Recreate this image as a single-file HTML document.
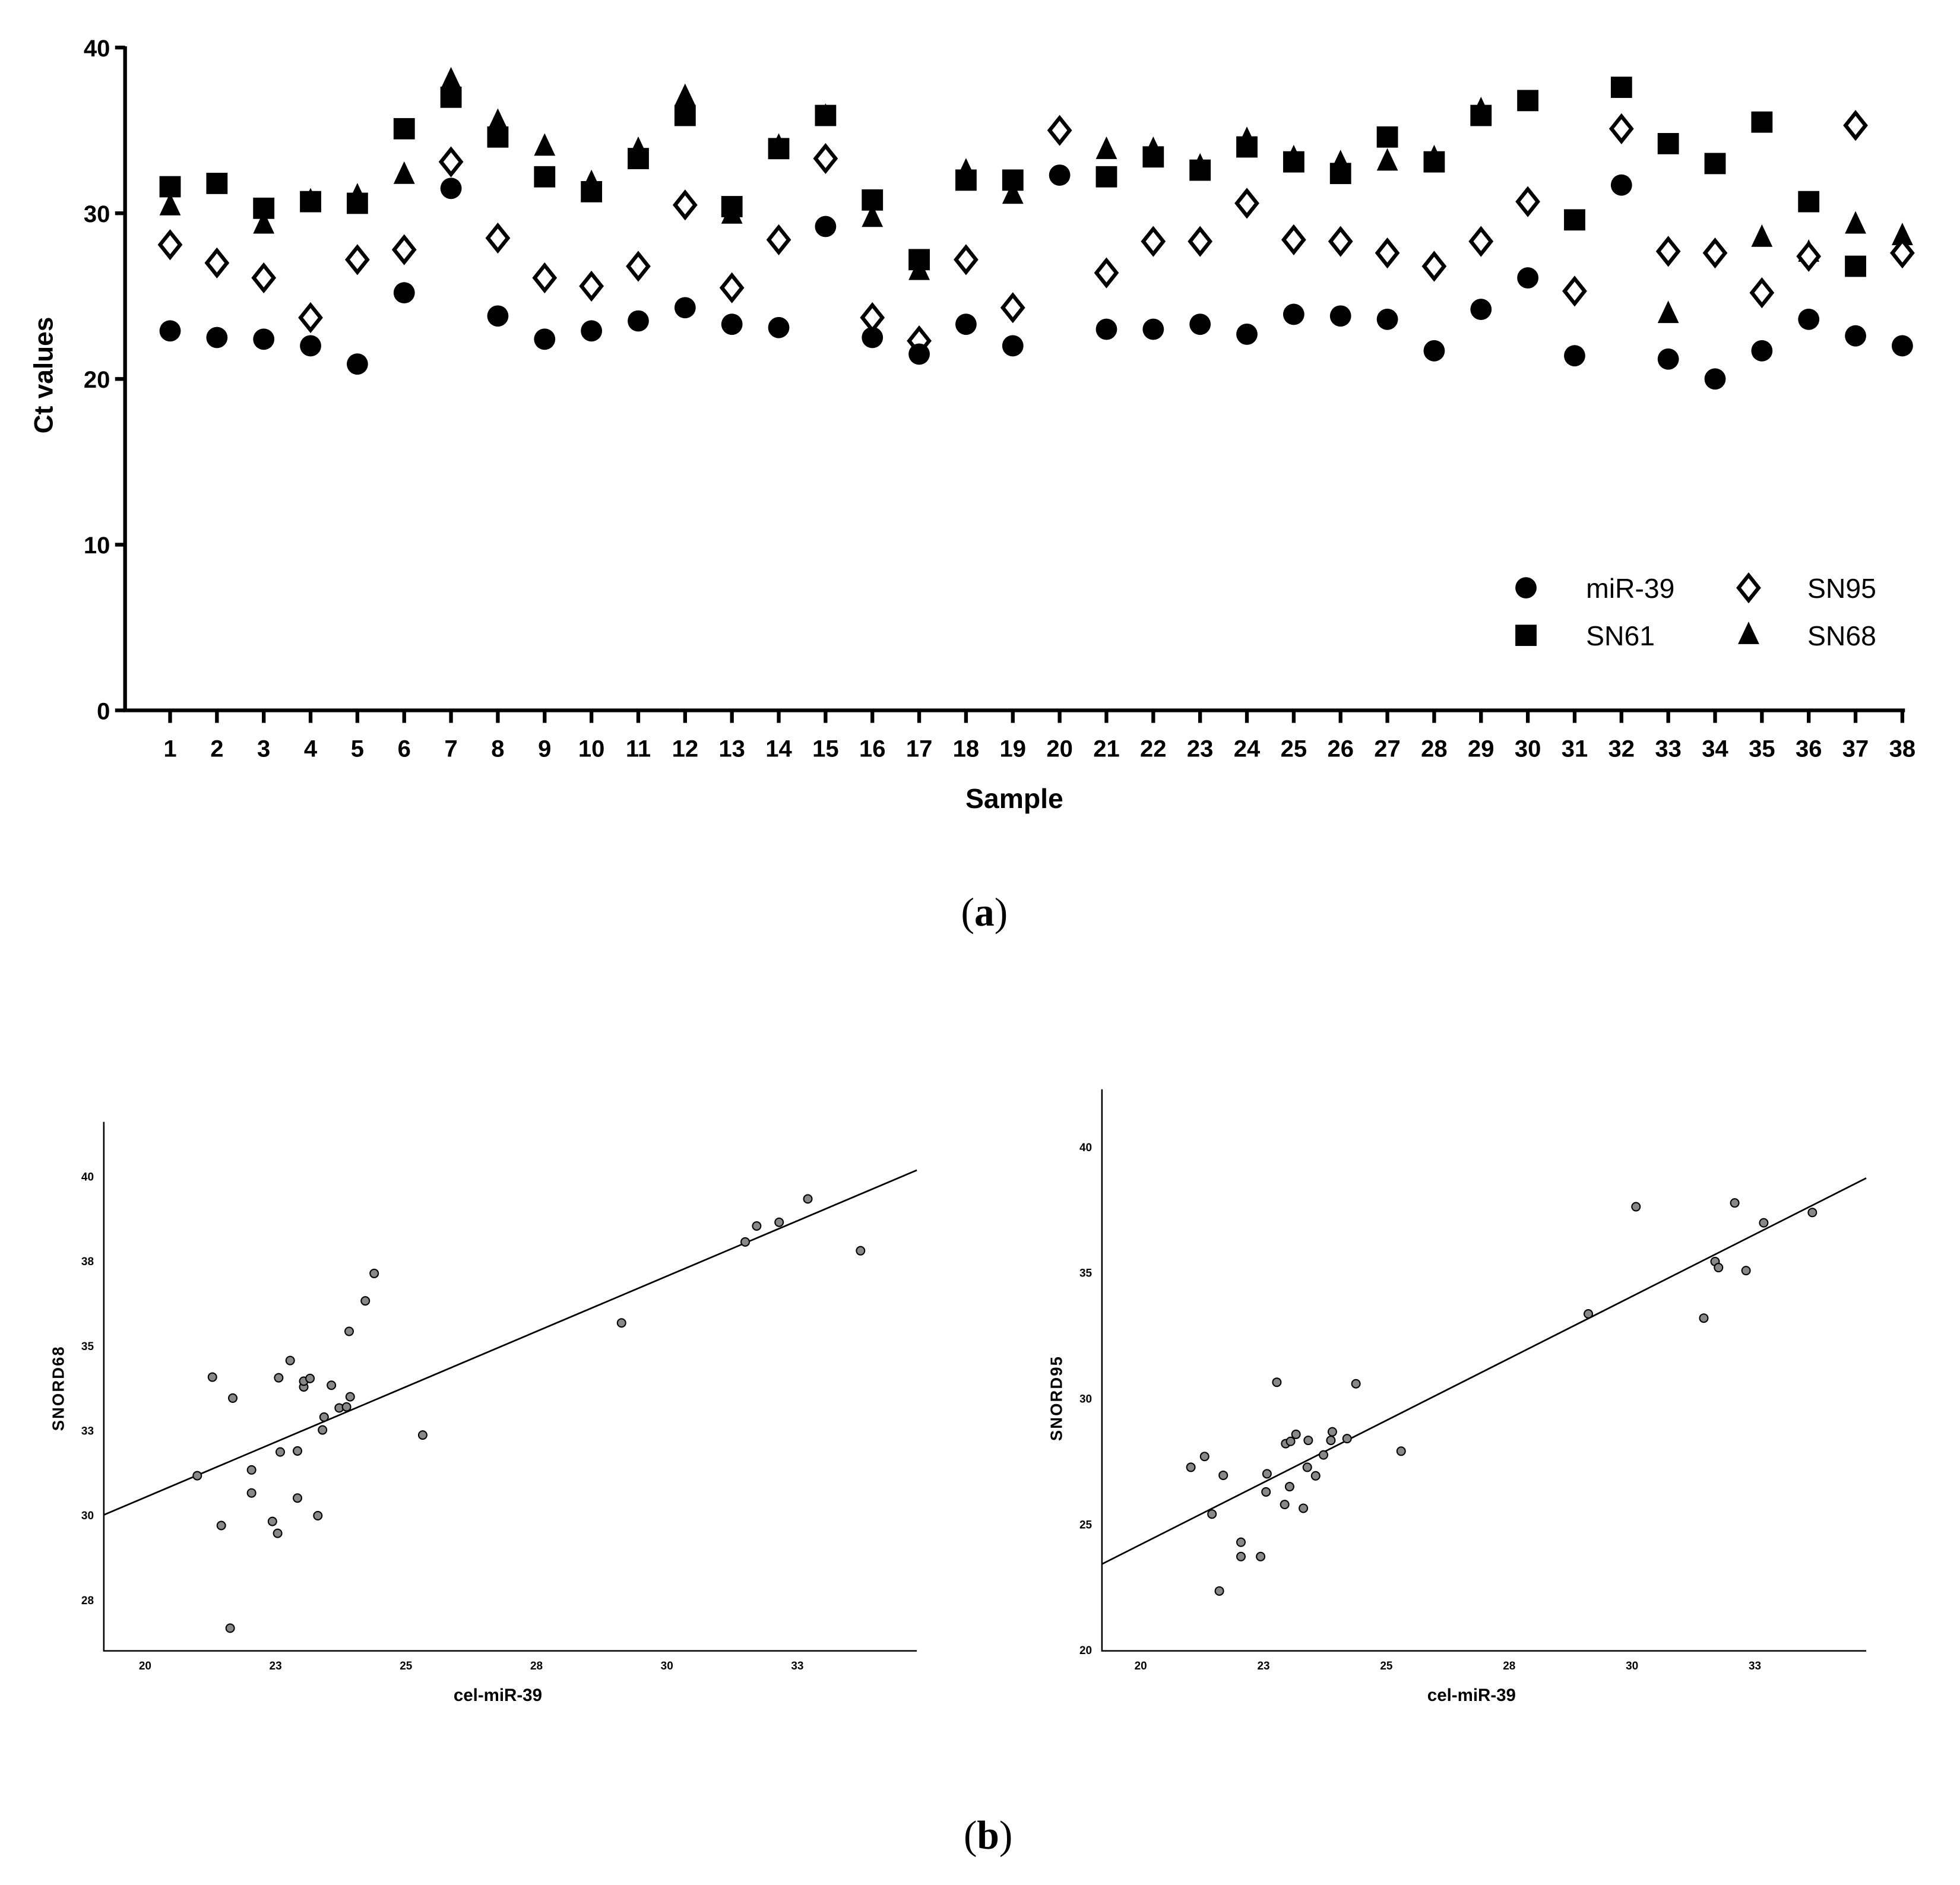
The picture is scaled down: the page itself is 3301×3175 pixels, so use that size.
<!DOCTYPE html>
<html><head><meta charset="utf-8"><style>
html,body{margin:0;padding:0;background:#fff;}
svg{display:block;}
text{font-family:"Liberation Sans",sans-serif;}
</style></head><body>
<svg id="fig" xmlns="http://www.w3.org/2000/svg" width="3301" height="3175" viewBox="0 0 1567 1507.2" preserveAspectRatio="none">
<rect width="1567" height="1507.2" fill="#fff"/>
<g id="pa"></g>
<g id="pb1"></g>
<g id="pb2"></g>
<text x="787" y="740" text-anchor="middle" style="font-family:'Liberation Serif',serif" font-size="32">(<tspan font-weight="bold">a</tspan>)</text>
<text x="790" y="1478" text-anchor="middle" style="font-family:'Liberation Serif',serif" font-size="32">(<tspan font-weight="bold">b</tspan>)</text>
</svg>
<script>
const samples = Array.from({length:38},(_, i)=>i+1);
const mir39 = [22.9,22.5,22.4,22.0,20.9,25.2,31.5,23.8,22.4,22.9,23.5,24.3,23.3,23.1,29.2,22.5,21.5,23.3,22.0,32.3,23.0,23.0,23.3,22.7,23.9,23.8,23.6,21.7,24.2,26.1,21.4,31.7,21.2,20.0,21.7,23.6,22.6,22.0];
const sn95 = [28.1,27.0,26.1,23.7,27.2,27.8,33.1,28.5,26.1,25.6,26.8,30.5,25.5,28.4,33.3,23.7,22.3,27.2,24.3,35.0,26.4,28.3,28.3,30.6,28.4,28.3,27.6,26.8,28.3,30.7,25.3,35.1,27.7,27.6,25.2,27.4,35.3,27.6];
const sn61 = [31.6,31.8,30.3,30.7,30.6,35.1,37.0,34.6,32.2,31.3,33.3,35.9,30.4,33.9,35.9,30.8,27.2,32.0,32.0,null,32.2,33.4,32.6,34.0,33.1,32.4,34.6,33.1,35.9,36.8,29.6,37.6,34.2,33.0,35.5,30.7,26.8,null];
const sn68 = [30.4,null,29.3,30.7,31.0,32.3,38.0,35.5,34.0,31.8,33.8,37.0,29.9,34.0,35.8,29.7,26.5,32.5,31.1,null,33.8,33.8,32.8,34.4,33.3,33.0,33.1,33.3,36.2,null,null,null,23.9,null,28.5,27.6,29.3,28.6];
const yTicksA = [0,10,20,30,40];

const b1x = [21.0,21.29,21.46,21.68,21.63,22.04,22.04,22.44,22.54,22.56,22.59,22.78,22.92,22.92,23.04,23.04,23.16,23.31,23.40,23.43,23.57,23.72,23.86,23.93,23.91,24.22,24.39,25.32,29.13,31.50,31.72,32.15,32.70,33.71];
const b1y = [31.18,34.09,29.71,33.47,26.68,31.35,30.67,29.83,29.48,34.07,31.88,34.58,31.91,30.52,33.80,33.97,34.05,30.0,32.53,32.91,33.85,33.18,33.21,33.51,35.44,36.34,37.15,32.38,35.69,38.08,38.55,38.66,39.35,37.82];
const b1fit = [0.653,17.48];
const b2x = [21.02,21.30,21.45,21.68,21.60,22.04,22.04,22.44,22.55,22.57,22.77,22.93,22.95,23.03,23.05,23.16,23.31,23.39,23.41,23.56,23.72,23.87,23.90,24.20,24.38,25.30,29.11,30.08,31.46,31.69,31.76,32.09,32.32,32.68,33.67];
const b2y = [27.28,27.71,25.42,26.96,22.36,24.30,23.73,23.73,26.30,27.02,30.66,25.80,28.22,26.51,28.31,28.59,25.65,27.28,28.35,26.94,27.77,28.35,28.69,28.42,30.60,27.92,33.38,37.64,33.21,35.46,35.22,37.79,35.10,37.00,37.41];
const b2fit = [0.9865,4.48];
const xTickVals = [20,22.5,25,27.5,30,32.5];
const xTickLbl = ["20","23","25","28","30","33"];
const b1yVals = [27.5,30,32.5,35,37.5,40];
const b1yLbl = ["28","30","33","35","38","40"];
const b2yVals = [20,25,30,35,40];
const b2yLbl = ["20","25","30","35","40"];

const NS='http://www.w3.org/2000/svg';
function mk(parent,tag,attrs,txt){const e=document.createElementNS(NS,tag);for(const k in attrs)e.setAttribute(k,attrs[k]);if(txt!==undefined)e.textContent=txt;parent.appendChild(e);return e;}

const pa=document.getElementById('pa');
const ax=s=>136+(s-1)*37.43, ay=v=>568-v*13.25;
let e=mk(pa,'path',{d:'M100,37V568H1523',fill:'none',stroke:'#000','stroke-width':3});

yTicksA.forEach(v=>{
  let t=mk(pa,'line',{x1:92,x2:100,y1:ay(v),y2:ay(v),stroke:'#000','stroke-width':3});
  
  let l=mk(pa,'text',{x:88,y:ay(v)+7,'text-anchor':'end','font-size':19,'font-weight':'bold'},String(v));
  
});
samples.forEach(s=>{
  let t=mk(pa,'line',{x1:ax(s),x2:ax(s),y1:568,y2:578,stroke:'#000','stroke-width':3});
  
  let l=mk(pa,'text',{x:ax(s),y:605,'text-anchor':'middle','font-size':19,'font-weight':'bold'},String(s));
  
});
e=mk(pa,'text',{x:811,y:646,'text-anchor':'middle','font-size':22,'font-weight':'bold'},'Sample');

e=mk(pa,'text',{x:0,y:0,'text-anchor':'middle','font-size':21,'font-weight':'bold',transform:'translate(42,300) rotate(-90)'},'Ct values');


function marker(g,type,x,y){
  if(type==='circle')return mk(g,'ellipse',{cx:x,cy:y,rx:8.5,ry:8.5,fill:'#000'});
  if(type==='square')return mk(g,'rect',{x:x-8.5,y:y-8.5,width:17,height:17,fill:'#000'});
  if(type==='diamond')return mk(g,'path',{d:`M${x},${y-10}L${x+8},${y}L${x},${y+10}L${x-8},${y}Z`,fill:'#fff',stroke:'#000','stroke-width':3});
  return mk(g,'path',{d:`M${x},${y-11}L${x+8.5},${y+7}L${x-8.5},${y+7}Z`,fill:'#000'});
}
const series=[['sn68',sn68,'triangle'],['sn61',sn61,'square'],['sn95',sn95,'diamond'],['mir39',mir39,'circle']];
series.forEach(([nm,arr,type])=>{
  arr.forEach((v,i)=>{ if(v===null)return;
    const m=marker(pa,type,ax(samples[i]),ay(v));
    
    
  });
});
const leg=[['circle','miR-39',1220,1268,470],['diamond','SN95',1398,1445,470],['square','SN61',1220,1268,508],['triangle','SN68',1398,1445,508]];
leg.forEach(([t,lab,mx,tx,y])=>{
  const m=marker(pa,t,mx,y);
  
  const l=mk(pa,'text',{x:tx,y:y+8,'font-size':22},lab);
  
});

function scatter(g,cfg){
  const sx=v=>cfg.x0+(v-20)*cfg.kx, sy=v=>cfg.y0-(v-cfg.yb)*cfg.ky;
  let a=mk(g,'path',{d:`M${cfg.L},${cfg.T}V${cfg.B}H${cfg.R}`,fill:'none',stroke:'#000','stroke-width':1.2});
  
  xTickVals.forEach((v,i)=>{
    const l=mk(g,'text',{x:sx(v),y:cfg.B+15,'text-anchor':'middle','font-size':9,'font-weight':'bold'},xTickLbl[i]);
    
  });
  cfg.yv.forEach((v,i)=>{
    const l=mk(g,'text',{x:cfg.L-8,y:sy(v)+3,'text-anchor':'end','font-size':9,'font-weight':'bold'},cfg.yl[i]);
    
  });
  let t=mk(g,'text',{x:(cfg.L+cfg.R)/2-10,y:cfg.B+40,'text-anchor':'middle','font-size':14,'font-weight':'bold'},'cel-miR-39');
  
  t=mk(g,'text',{x:0,y:0,'text-anchor':'middle','font-size':13,'font-weight':'bold','letter-spacing':1,transform:`translate(${cfg.L-32},${cfg.ty}) rotate(-90)`},cfg.title);
  
  const xa=(cfg.L-cfg.x0)/cfg.kx+20, xb=(cfg.R-cfg.x0)/cfg.kx+20;
  let ln=mk(g,'line',{x1:sx(xa),y1:sy(cfg.fit[0]*xa+cfg.fit[1]),x2:sx(xb),y2:sy(cfg.fit[0]*xb+cfg.fit[1]),stroke:'#000','stroke-width':1.3});
  
  cfg.xs.forEach((v,i)=>{
    const c=mk(g,'circle',{cx:sx(v),cy:sy(cfg.ys[i]),r:3.3,fill:'#888',stroke:'#000','stroke-width':1});
    
  });
}
scatter(document.getElementById('pb1'),{x0:116,kx:41.72,y0:1211.9,yb:30,ky:27.09,L:83,R:733,T:897,B:1320,yv:b1yVals,yl:b1yLbl,xs:b1x,ys:b1y,fit:b1fit,title:'SNORD68',ty:1110});
scatter(document.getElementById('pb2'),{x0:912,kx:39.28,y0:1319.6,yb:20,ky:20.11,L:881,R:1492,T:871,B:1320,yv:b2yVals,yl:b2yLbl,xs:b2x,ys:b2y,fit:b2fit,title:'SNORD95',ty:1118});
</script>
</body></html>
